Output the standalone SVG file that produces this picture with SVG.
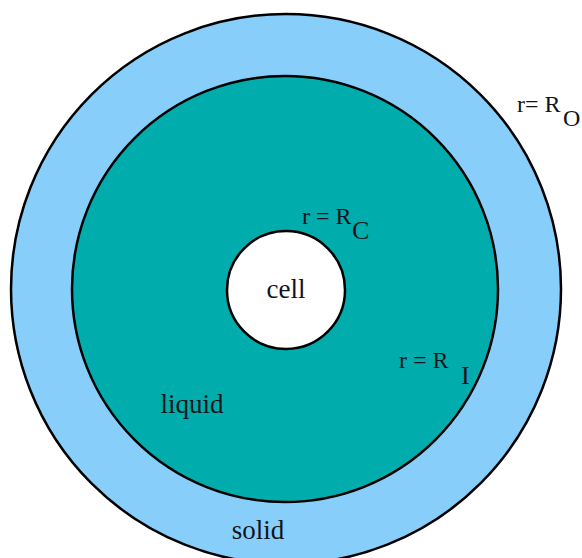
<svg xmlns="http://www.w3.org/2000/svg" width="582" height="558" viewBox="0 0 582 558">
<style>
.ring{stroke:#000;stroke-width:2.5}
.t{font-family:"Liberation Serif","Times New Roman",serif;fill:#10141c}
.lbl{font-size:24px}
.sub{font-size:26px}
.big{font-size:27px}
</style>
<rect width="582" height="558" fill="#fff"/>
<g id="solid">
<circle class="ring" cx="286" cy="289" r="275" fill="#87CEFA"/>
<text class="t big" x="258" y="539" text-anchor="middle">solid</text>
</g>
<g id="liquid">
<circle class="ring" cx="285" cy="289" r="213" fill="#00ACAC"/>
<text class="t big" x="192" y="413" text-anchor="middle">liquid</text>
</g>
<g id="cell">
<circle class="ring" cx="286" cy="290" r="59" fill="#fff"/>
<text class="t big" x="286" y="298" text-anchor="middle">cell</text>
</g>
<g id="labels">
<text class="t lbl" x="302" y="224">r = R<tspan class="sub" x="352" y="239">C</tspan></text>
<text class="t lbl" x="399" y="368">r = R<tspan class="sub" x="461" y="384">I</tspan></text>
<text class="t lbl" x="517" y="112">r= R<tspan class="lbl" x="563" y="126">O</tspan></text>
</g>
</svg>
